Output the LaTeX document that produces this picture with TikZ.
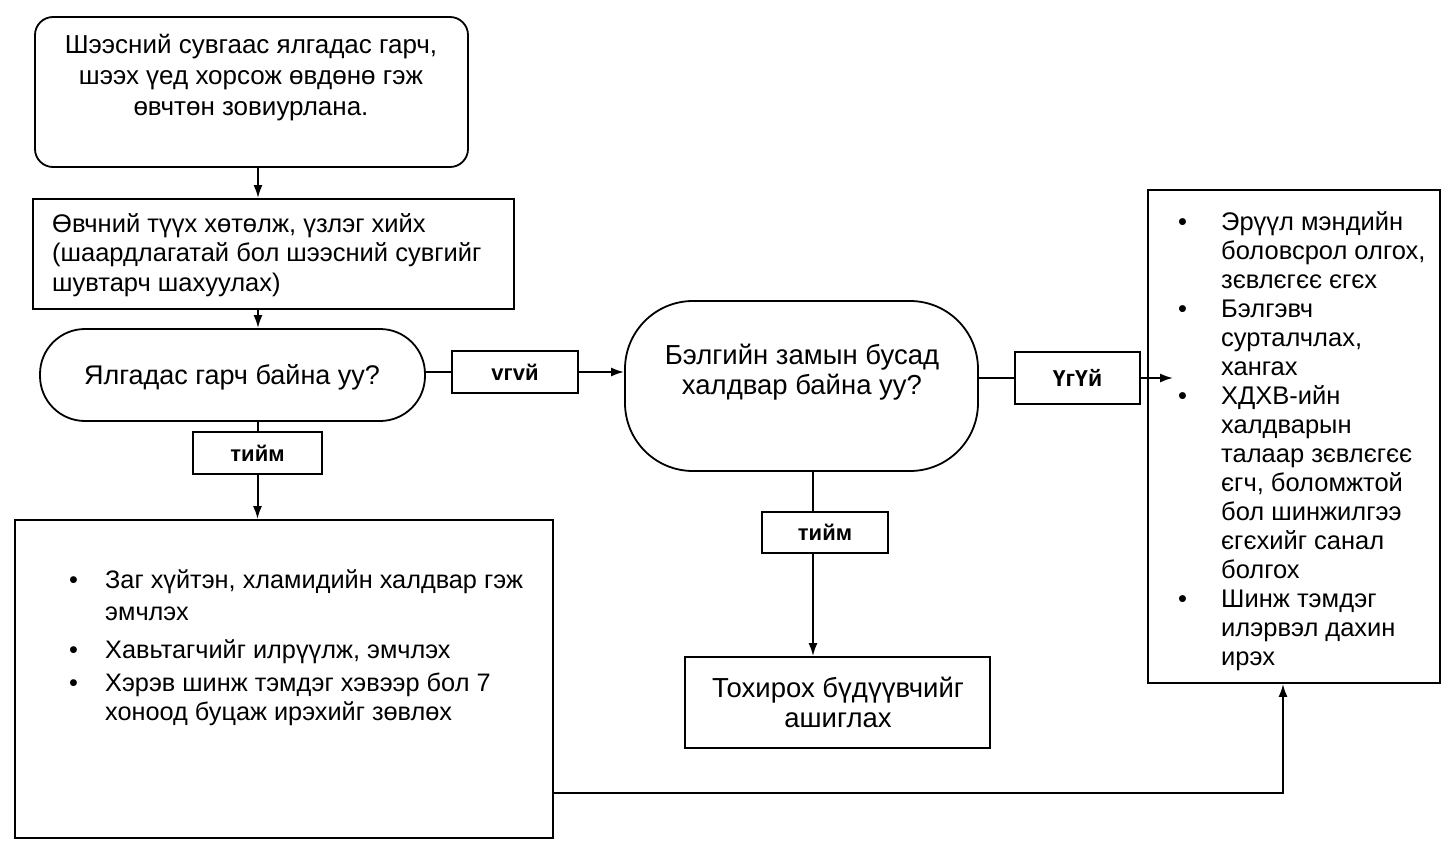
\documentclass[tikz,border=0pt]{standalone}
\usepackage{fontspec}
\setmainfont{Liberation Sans}
\usetikzlibrary{arrows.meta}
\begin{document}
\begin{tikzpicture}[x=1pt,y=-1pt,
  frame/.style={draw, line width=1.8pt, inner sep=0pt},
  lbl/.style={draw, line width=1.8pt, inner sep=0pt, font=\bfseries\fontsize{22}{24}\selectfont},
  txt/.style={inner sep=0pt},
  link/.style={line width=2pt},
  arr/.style={line width=2pt, -{Latex[length=13pt,width=9pt]}}]
\useasboundingbox (0,0) rectangle (1444,852);
\fill[white] (0,0) rectangle (1444,852);

% complaint
\node[frame, rounded corners=18pt, minimum width=433pt, minimum height=150pt] (a) at (251.5,92) {};
\node[txt, anchor=base, font=\fontsize{26}{31}\selectfont] (atext) at (251,53) {\begin{tabular}[t]{@{}c@{}}
Шээсний сувгаас ялгадас гарч,\\
шээх үед хорсож өвдөнө гэж\\
өвчтөн зовиурлана.\end{tabular}};

% history and examination
\node[frame, minimum width=481pt, minimum height=110pt] (b) at (273.5,254) {};
\node[txt, anchor=base west, font=\fontsize{25.5}{29.5}\selectfont] (btext) at (52,232) {\begin{tabular}[t]{@{}l@{}}
Өвчний түүх хөтөлж, үзлэг хийх\\
(шаардлагатай бол шээсний сувгийг\\
шувтарч шахуулах)\end{tabular}};

% first decision
\node[frame, rounded corners=45pt, minimum width=385pt, minimum height=92pt] (c) at (232.5,375) {};
\node[txt, anchor=base, font=\fontsize{27}{30}\selectfont] (ctext) at (232,384) {Ялгадас гарч байна уу?};

% second decision
\node[frame, rounded corners=68pt, minimum width=353pt, minimum height=170pt] (d) at (801.5,386) {};
\node[txt, anchor=base, font=\fontsize{27.5}{30}\selectfont] (dtext) at (802,364) {\begin{tabular}[t]{@{}c@{}}
Бэлгийн замын бусад\\
халдвар байна уу?\end{tabular}};

% answer labels
\node[lbl, minimum width=126pt, minimum height=42pt] (no1) at (515,372) {vгvй};
\node[lbl, minimum width=125pt, minimum height=52pt, font=\bfseries\fontsize{23}{24}\selectfont] (no2) at (1077.5,378) {ҮгҮй};
\node[lbl, minimum width=129pt, minimum height=42pt] (yes1) at (257.5,453) {тийм};
\node[lbl, minimum width=126pt, minimum height=41pt] (yes2) at (825,532.5) {тийм};

% treatment box
\node[frame, minimum width=538pt, minimum height=318pt] (e) at (284,679) {};
\node[txt, anchor=base west, font=\fontsize{25.3}{29}\selectfont] (etext) at (69,588) {\begin{tabular}[t]{@{}p{36pt}@{}l@{}}
\textbullet & Заг хүйтэн, хламидийн халдвар гэж\\[3pt]
 & эмчлэх\\[9pt]
\textbullet & Хавьтагчийг илрүүлж, эмчлэх\\[4pt]
\textbullet & Хэрэв шинж тэмдэг хэвээр бол 7\\
 & хоноод буцаж ирэхийг зөвлөх\end{tabular}};

% suitable scheme
\node[frame, minimum width=305pt, minimum height=91pt] (g) at (837.5,702.5) {};
\node[txt, anchor=base, font=\fontsize{27.5}{30}\selectfont] (gtext) at (838,697) {\begin{tabular}[t]{@{}c@{}}
Тохирох бүдүүвчийг\\
ашиглах\end{tabular}};

% counselling box
\node[frame, minimum width=292pt, minimum height=493pt] (f) at (1294,436.5) {};
\node[txt, anchor=base west, font=\fontsize{25.5}{29}\selectfont] (ftext) at (1178,230) {\begin{tabular}[t]{@{}p{43pt}@{}l@{}}
\textbullet & Эрүүл мэндийн\\
 & боловсрол олгох,\\
 & зєвлєгєє єгєх\\
\textbullet & Бэлгэвч\\
 & сурталчлах,\\
 & хангах\\
\textbullet & ХДХВ-ийн\\
 & халдварын\\
 & талаар зєвлєгєє\\
 & єгч, боломжтой\\
 & бол шинжилгээ\\
 & єгєхийг санал\\
 & болгох\\
\textbullet & Шинж тэмдэг\\
 & илэрвэл дахин\\
 & ирэх\end{tabular}};

% connectors
\draw[arr] (a.south -| 258,0) -- (b.north -| 258,0);
\draw[arr] (b.south -| 258,0) -- (c.north -| 258,0);
\draw[link] (c.east |- no1.west) -- (no1.west);
\draw[arr] (no1.east) -- (no1.east -| d.west);
\draw[link] (d.east |- no2.west) -- (no2.west);
\draw[arr] (no2.east) -- ([xshift=26pt]no2.east -| f.west);
\draw[link] (c.south -| yes1.north) -- (yes1.north);
\draw[arr] (yes1.south) -- (yes1.south |- e.north);
\draw[link] (d.south -| 813,0) -- (yes2.north -| 813,0);
\draw[arr] (yes2.south -| 813,0) -- (g.north -| 813,0);
\draw[arr] ([yshift=-114pt]e.east) -| (f.south -| 1283,0);
\end{tikzpicture}
\end{document}
